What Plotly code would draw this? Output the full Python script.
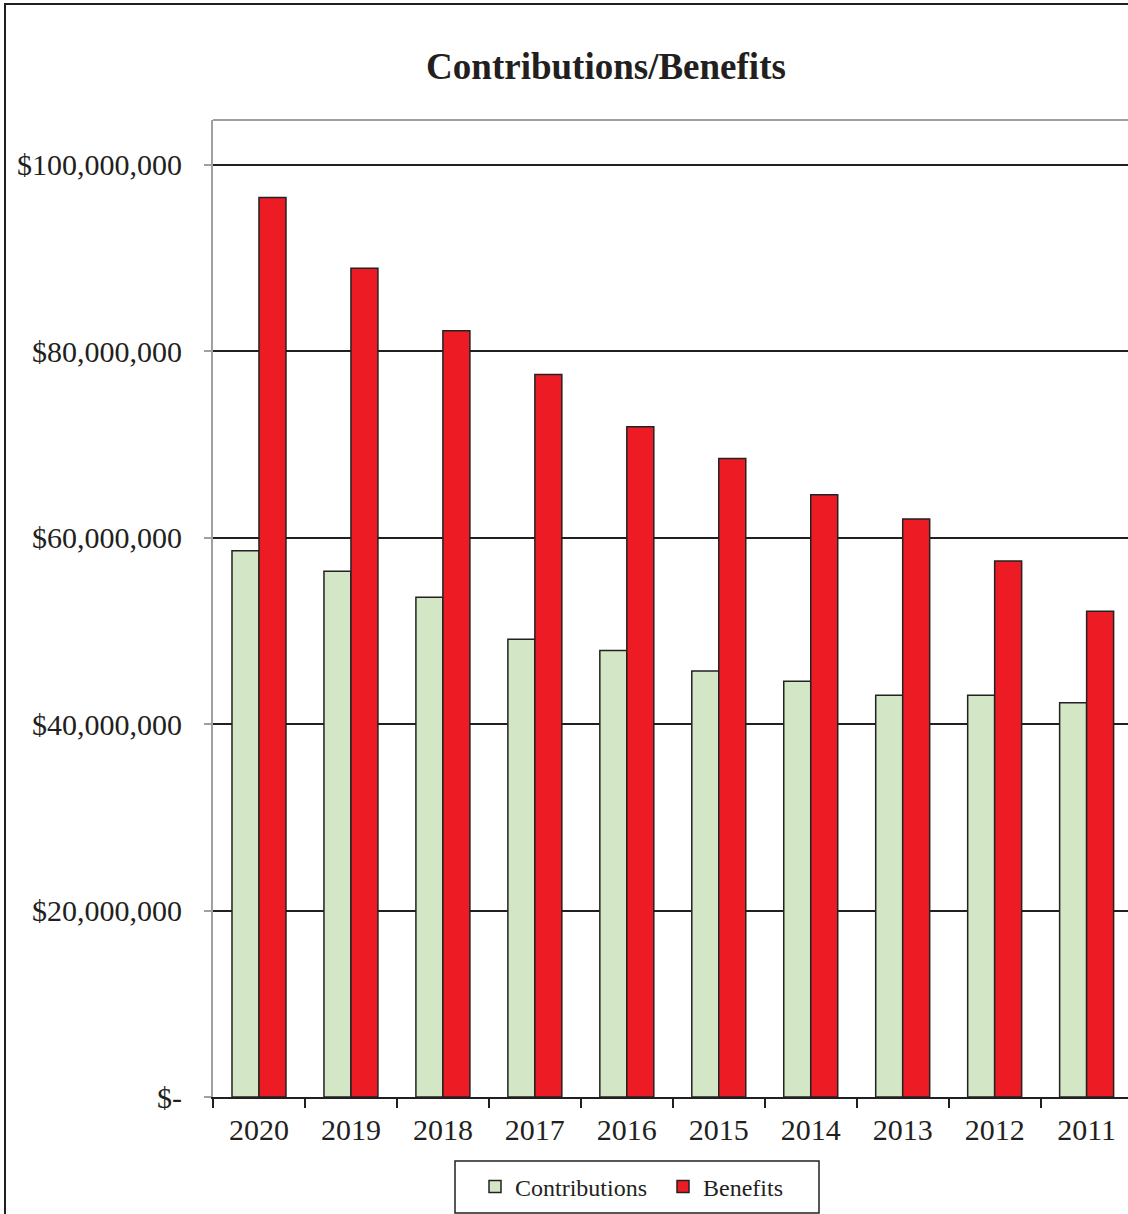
import plotly.graph_objects as go

years = ["2020", "2019", "2018", "2017", "2016", "2015", "2014", "2013", "2012", "2011"]
contributions = [58.6e6, 56.4e6, 53.6e6, 49.1e6, 47.9e6, 45.7e6, 44.6e6, 43.1e6, 43.1e6, 42.3e6]
benefits = [96.5e6, 88.9e6, 82.2e6, 77.5e6, 71.9e6, 68.5e6, 64.6e6, 62.0e6, 57.5e6, 52.1e6]
ytick_vals = [0, 20e6, 40e6, 60e6, 80e6, 100e6]
ytick_text = ["$-", "$20,000,000", "$40,000,000", "$60,000,000", "$80,000,000", "$100,000,000"]

OFF = 0  # body margin removed via post_script
W, H = 1128, 1214
# plot area in page pixels
PL, PR, PT, PB = 213, 1128, 120, 1097
L = PL - OFF
T = PT - OFF
R = W - (PR - OFF)
B = H - (PB - OFF)
pw, ph = PR - PL, PB - PT

def px_x(p):
    return (p - PL) / pw

def px_y(p):
    return (PB - p) / ph

FONT = "Liberation Serif, Times New Roman, serif"

fig = go.Figure()
fig.add_trace(go.Bar(name="Contributions", x=years, y=contributions,
                     marker=dict(color="#D3E6C6", line=dict(color="#222222", width=1.5))))
fig.add_trace(go.Bar(name="Benefits", x=years, y=benefits,
                     marker=dict(color="#ED1C24", line=dict(color="#222222", width=1.5))))

fig.update_layout(
    width=W, height=H,
    margin=dict(l=L, r=R, t=T, b=B, pad=0),
    paper_bgcolor="white", plot_bgcolor="white",
    font=dict(family=FONT, color="#231F20", size=30),
    barmode="group", bargap=0.413, bargroupgap=0,
    title=dict(text="<b>Contributions/Benefits</b>", font=dict(size=37, family=FONT, color="#231F20"),
               x=(606 - OFF) / W, xref="container", xanchor="center",
               y=1 - (66 - OFF) / H, yref="container", yanchor="middle"),
    showlegend=True,
    legend=dict(orientation="h", x=px_x(475), xanchor="left", y=px_y(1187), yanchor="middle",
                font=dict(size=24, family=FONT, color="#231F20"),
                bgcolor="rgba(0,0,0,0)", borderwidth=0, entrywidth=143, entrywidthmode="pixels",
                traceorder="normal"),
    xaxis=dict(range=[-0.5, 9.45], showline=True, linecolor="#231F20", linewidth=2,
               ticks="outside", tickson="boundaries", ticklen=9, tickwidth=1.5, tickcolor="#231F20",
               showgrid=False, tickfont=dict(size=30), ticklabelstandoff=5, fixedrange=True),
    yaxis=dict(range=[0, 104.8e6], tickvals=ytick_vals, ticktext=ytick_text,
               showline=True, linecolor="#A0A0A0", linewidth=2,
               ticks="outside", ticklen=7, tickwidth=1.5, tickcolor="#A0A0A0",
               showgrid=True, gridcolor="#231F20", gridwidth=1.5, zeroline=False,
               tickfont=dict(size=30), ticklabelstandoff=16, fixedrange=True),
    shapes=[
        dict(type="line", xref="paper", yref="paper", x0=0, x1=1, y0=1, y1=1,
             line=dict(color="#A0A0A0", width=2)),
        dict(type="rect", xref="paper", yref="paper", x0=px_x(5), x1=px_x(1160), y0=px_y(4), y1=px_y(1260),
             line=dict(color="#231F20", width=2), fillcolor="rgba(0,0,0,0)", layer="above"),
        dict(type="rect", xref="paper", yref="paper", x0=px_x(455), x1=px_x(819), y0=px_y(1161), y1=px_y(1213),
             line=dict(color="#231F20", width=1.5), fillcolor="rgba(0,0,0,0)", layer="above"),
    ],
)

fig.write_html("out.html", config={"displayModeBar": False},
               post_script="document.body.style.margin='0px';document.body.style.overflow='hidden';")
